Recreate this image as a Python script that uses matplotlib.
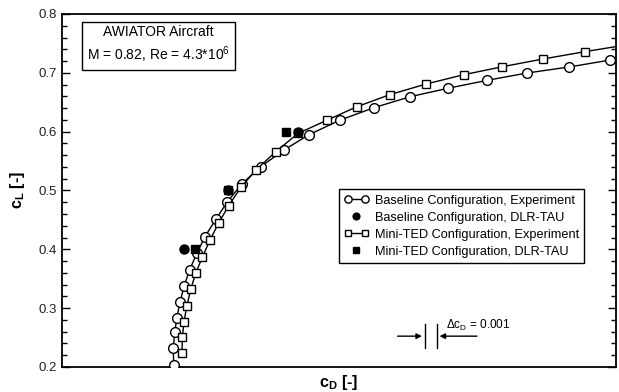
import matplotlib
matplotlib.use("Agg")
import matplotlib.pyplot as plt
from matplotlib.legend_handler import HandlerLine2D
from matplotlib.ticker import MultipleLocator, NullLocator

plt.rcParams["font.family"] = ["Liberation Sans", "DejaVu Sans"]
plt.rcParams["mathtext.fontset"] = "custom"
plt.rcParams["mathtext.rm"] = "Liberation Sans"
plt.rcParams["mathtext.bf"] = "Liberation Sans:bold"

# drag polar data, AWIATOR wind tunnel model
base_cd = [0.02931, 0.02928, 0.02939, 0.02958, 0.02983, 0.03018, 0.03064, 0.03125,
           0.03192, 0.03283, 0.03379, 0.03498, 0.03656, 0.03850, 0.04058, 0.04319,
           0.04602, 0.04903, 0.05219, 0.05544, 0.05878, 0.06228, 0.06573]
base_cl = [0.204, 0.2325, 0.2588, 0.2833, 0.3098, 0.3374, 0.3651, 0.3935,
           0.4216, 0.4510, 0.4808, 0.5109, 0.5403, 0.5687, 0.5947, 0.6197,
           0.6408, 0.6594, 0.6738, 0.6872, 0.6997, 0.7099, 0.7218]

ted_cd = [0.03000, 0.03004, 0.03017, 0.03042, 0.03073, 0.03117, 0.03171, 0.03233,
          0.03307, 0.03390, 0.03493, 0.03617, 0.03781, 0.03969, 0.04206, 0.04458,
          0.04736, 0.05036, 0.05350, 0.05673, 0.06011, 0.06358, 0.06700]
ted_cl = [0.2230, 0.2507, 0.2772, 0.3044, 0.3323, 0.3604, 0.3872, 0.4153,
          0.4451, 0.4743, 0.5058, 0.5347, 0.5658, 0.5971, 0.6192, 0.6423,
          0.6631, 0.6810, 0.6968, 0.7104, 0.7235, 0.7359, 0.7473]

tau_base_cd = [0.03017, 0.03388, 0.03969]
tau_base_cl = [0.4, 0.5, 0.6]
tau_ted_cd = [0.03108, 0.03388, 0.03867]
tau_ted_cl = [0.4, 0.5, 0.6]

delta_cd = 0.001
delta_x0 = 0.05025

fig = plt.figure(figsize=(6.19, 3.92), dpi=100)
ax = fig.add_axes([0.1002, 0.0638, 0.8950, 0.9005])

l1, = ax.plot(base_cd, base_cl, "-o", color="black", lw=1.0, ms=7,
              mfc="white", mec="black", mew=1.0, zorder=3)
l3, = ax.plot(ted_cd, ted_cl, "-s", color="black", lw=1.0, ms=6,
              mfc="white", mec="black", mew=1.0, zorder=3)
l4, = ax.plot(tau_ted_cd, tau_ted_cl, "s", color="black", ms=5.5, ls="none", zorder=4)
l2, = ax.plot(tau_base_cd, tau_base_cl, "o", color="black", ms=6.5, ls="none", zorder=5)

ax.set_xlim(0.020, 0.0662)
ax.set_ylim(0.2, 0.8)
ax.xaxis.set_major_locator(NullLocator())
ax.yaxis.set_major_locator(MultipleLocator(0.1))
ax.yaxis.set_minor_locator(MultipleLocator(0.02))
ax.tick_params(axis="y", which="both", direction="in", right=True, labelsize=9.5,
               labelcolor="#222222", width=1.0, pad=4)
ax.tick_params(axis="y", which="major", length=6)
ax.tick_params(axis="y", which="minor", length=3.5)
for s in ax.spines.values():
    s.set_linewidth(1.3)

ax.set_ylabel("c$_\\mathbf{L}$ [-]", fontsize=11.5, fontweight="bold", labelpad=8)
ax.set_xlabel("c$_\\mathbf{D}$ [-]", fontsize=11.5, fontweight="bold", labelpad=4)

ax.text(0.174, 0.912, "AWIATOR Aircraft\nM = 0.82, Re = 4.3*10$^6$", transform=ax.transAxes,
        ha="center", va="center", fontsize=10, linespacing=1.35,
        bbox=dict(boxstyle="square,pad=0.35", fc="white", ec="black", lw=1.0))

leg = ax.legend([l1, l2, l3, l4],
                ["Baseline Configuration, Experiment", "Baseline Configuration, DLR-TAU",
                 "Mini-TED Configuration, Experiment", "Mini-TED Configuration, DLR-TAU"],
                loc="upper left", bbox_to_anchor=(0.5, 0.503), fontsize=9.2,
                numpoints=2, markerscale=0.75, handlelength=1.9, handletextpad=0.5,
                labelspacing=0.4, borderpad=0.4, borderaxespad=0, fancybox=False,
                framealpha=1, edgecolor="black",
                handler_map={l2: HandlerLine2D(numpoints=1), l4: HandlerLine2D(numpoints=1)})
leg.get_frame().set_linewidth(1.0)

# delta cD scale marker
ax.plot([delta_x0, delta_x0], [0.232, 0.273], color="black", lw=1.0)
ax.plot([delta_x0 + delta_cd, delta_x0 + delta_cd], [0.232, 0.273], color="black", lw=1.0)
ax.annotate("", xy=(delta_x0, 0.2524), xytext=(delta_x0 - 0.0025, 0.2524),
            arrowprops=dict(arrowstyle="-|>", color="black", lw=1.0, mutation_scale=8))
ax.annotate("", xy=(delta_x0 + delta_cd, 0.2524), xytext=(delta_x0 + delta_cd + 0.00358, 0.2524),
            arrowprops=dict(arrowstyle="-|>", color="black", lw=1.0, mutation_scale=8))
ax.text(delta_x0 + delta_cd + 0.0008, 0.257, "$\\Delta$c$_\\mathrm{D}$ = 0.001",
        fontsize=8.5, ha="left", va="bottom")

fig.savefig("out.png", dpi=100)
